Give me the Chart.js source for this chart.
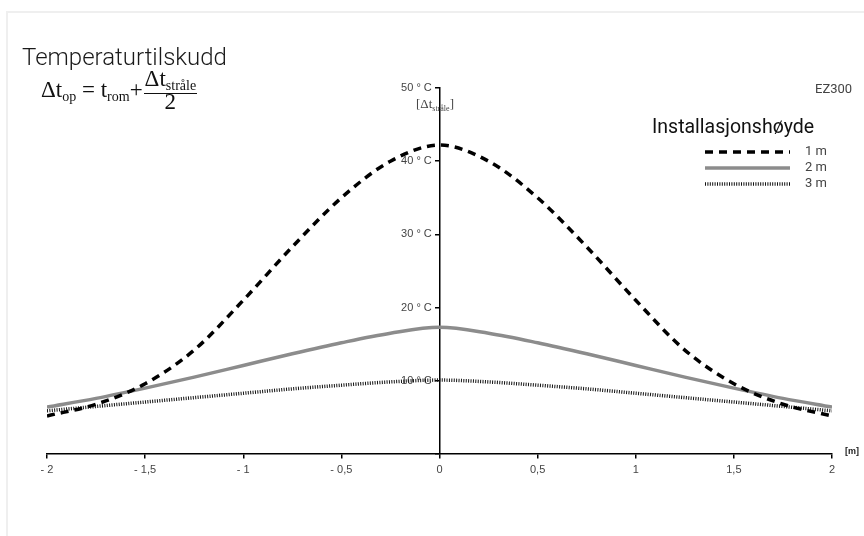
<!DOCTYPE html>
<html>
<head>
<meta charset="utf-8">
<script src="https://cdn.jsdelivr.net/npm/chart.js@4/dist/chart.umd.min.js"></script>
<style>
  html, body { margin:0; padding:0; background:#fff; }
  #wrap { position:relative; width:864px; height:536px; overflow:hidden; }
  #card { position:absolute; left:6px; top:11px; width:900px; height:600px; border-left:2px solid #efefef; border-top:2px solid #efefef; }
  canvas { position:absolute; left:0; top:0; }
  .t { position:absolute; white-space:nowrap; }
  #title { left:22px; top:43px; font-family:Roboto, 'Liberation Sans', sans-serif; font-weight:300; font-size:24px; color:#1a1a1a; }
  #formula { left:41px; top:71px; font-family:'Liberation Serif', serif; font-size:23px; color:#111; display:flex; align-items:center; }
  #formula sub { font-size:14px; vertical-align:-4px; }
  .frac { display:inline-flex; flex-direction:column; align-items:center; margin-left:1px; }
  .frac .num { border-bottom:1px solid #111; padding:0 1px; line-height:15px; }
  .frac .den { line-height:16px; }
  #ylab { left:416px; top:96px; font-family:'Liberation Serif', serif; font-size:13px; color:#444; }
  #ylab sub { font-size:8px; vertical-align:-3px; }
  #ez { left:815px; top:81px; font-family:Roboto, 'Liberation Sans', sans-serif; font-size:13px; color:#444; }
  #legtitle { left:652px; top:115px; font-family:Roboto, 'Liberation Sans', sans-serif; font-size:19.5px; color:#111; }
  .leglab { left:805px; font-family:Roboto, 'Liberation Sans', sans-serif; font-size:13px; color:#444; }
  #munit { left:845px; top:446px; font-family:'Liberation Sans', sans-serif; font-weight:bold; font-size:9px; color:#222; }
  #legsvg { position:absolute; left:700px; top:140px; }
</style>
</head>
<body>
<div id="wrap">
  <div id="card"></div>
  <canvas id="c" width="864" height="536"></canvas>
  <div class="t" id="title">Temperaturtilskudd</div>
  <div class="t" id="formula"><span>Δt<sub>op</sub>&nbsp;=&nbsp;t<sub>rom</sub>+</span><span class="frac"><span class="num">Δt<sub>stråle</sub></span><span class="den">2</span></span></div>
  <div class="t" id="ylab">[Δt<sub>stråle</sub>]</div>
  <div class="t" id="ez">EZ300</div>
  <div class="t" id="legtitle">Installasjonshøyde</div>
  <svg id="legsvg" width="100" height="56">
    <line x1="5" y1="12" x2="90" y2="12" stroke="#000" stroke-width="3.5" stroke-dasharray="8,6"/>
    <line x1="5" y1="28" x2="90" y2="28" stroke="#8c8c8c" stroke-width="3.5"/>
    <line x1="5" y1="44" x2="90" y2="44" stroke="#111" stroke-width="3.5" stroke-dasharray="1,1.4"/>
  </svg>
  <div class="t leglab" style="top:143px">1 m</div>
  <div class="t leglab" style="top:159px">2 m</div>
  <div class="t leglab" style="top:175px">3 m</div>
  <div class="t" id="munit">[m]</div>
</div>
<script>
const xValues = [-2, -1.75, -1.5, -1.25, -1, -0.75, -0.5, -0.25, 0, 0.25, 0.5, 0.75, 1, 1.25, 1.5, 1.75, 2];
const height1m = [5.2, 6.8, 9.6, 14.2, 21.0, 28.3, 35.0, 40.0, 42.2, 40.0, 35.0, 28.3, 21.0, 14.2, 9.6, 6.8, 5.2];
const height2m = [6.4, 7.6, 9.0, 10.5, 12.1, 13.7, 15.2, 16.5, 17.3, 16.5, 15.2, 13.7, 12.1, 10.5, 9.0, 7.6, 6.4];
const height3m = [5.9, 6.5, 7.1, 7.7, 8.3, 8.9, 9.4, 9.85, 10.1, 9.85, 9.4, 8.9, 8.3, 7.7, 7.1, 6.5, 5.9];
const xTickLabels = ['- 2', '- 1,5', '- 1', '- 0,5', '0', '0,5', '1', '1,5', '2'];
const yTickLabels = ['', '10 ° C', '20 ° C', '30 ° C', '40 ° C', '50 ° C'];

const pts = arr => arr.map((v, i) => ({x: xValues[i], y: v}));
const tickFont = {family: "'Liberation Sans Narrow', 'Liberation Sans', sans-serif", size: 11};

new Chart(document.getElementById('c'), {
  type: 'line',
  data: {
    datasets: [
      {label: '1 m', data: pts(height1m), borderColor: '#000', borderWidth: 3.5, borderDash: [8, 6], cubicInterpolationMode: 'monotone', pointRadius: 0, fill: false},
      {label: '2 m', data: pts(height2m), borderColor: '#8c8c8c', borderWidth: 3.5, cubicInterpolationMode: 'monotone', pointRadius: 0, fill: false},
      {label: '3 m', data: pts(height3m), borderColor: '#111', borderWidth: 3.5, borderDash: [1, 1.4], cubicInterpolationMode: 'monotone', pointRadius: 0, fill: false}
    ]
  },
  options: {
    responsive: false,
    animation: false,
    layout: {padding: {left: 47, right: 32, top: 88, bottom: 82}},
    plugins: {legend: {display: false}, tooltip: {enabled: false}},
    scales: {
      x: {
        type: 'linear', min: -2, max: 2, position: {y: 0},
        afterFit(s) { s.height = 0; },
        ticks: {stepSize: 0.5, autoSkip: false, maxRotation: 0, padding: 5, color: '#444', font: tickFont,
          callback: (v, i) => xTickLabels[i]},
        grid: {drawOnChartArea: false, drawTicks: true, tickLength: 4, color: '#000', lineWidth: 1.5},
        border: {display: true, color: '#000', width: 1.5}
      },
      y: {
        type: 'linear', min: 0, max: 50, position: {x: 0},
        afterFit(s) { s.width = 0; },
        ticks: {stepSize: 10, color: '#444', font: tickFont,
          callback: (v, i) => yTickLabels[i] ? yTickLabels[i] + '\u2002\u2009' : ''},
        grid: {drawOnChartArea: false, drawTicks: true, tickLength: 4, color: '#000', lineWidth: 1.5},
        border: {display: true, color: '#000', width: 1.5}
      }
    }
  }
});
</script>
</body>
</html>
